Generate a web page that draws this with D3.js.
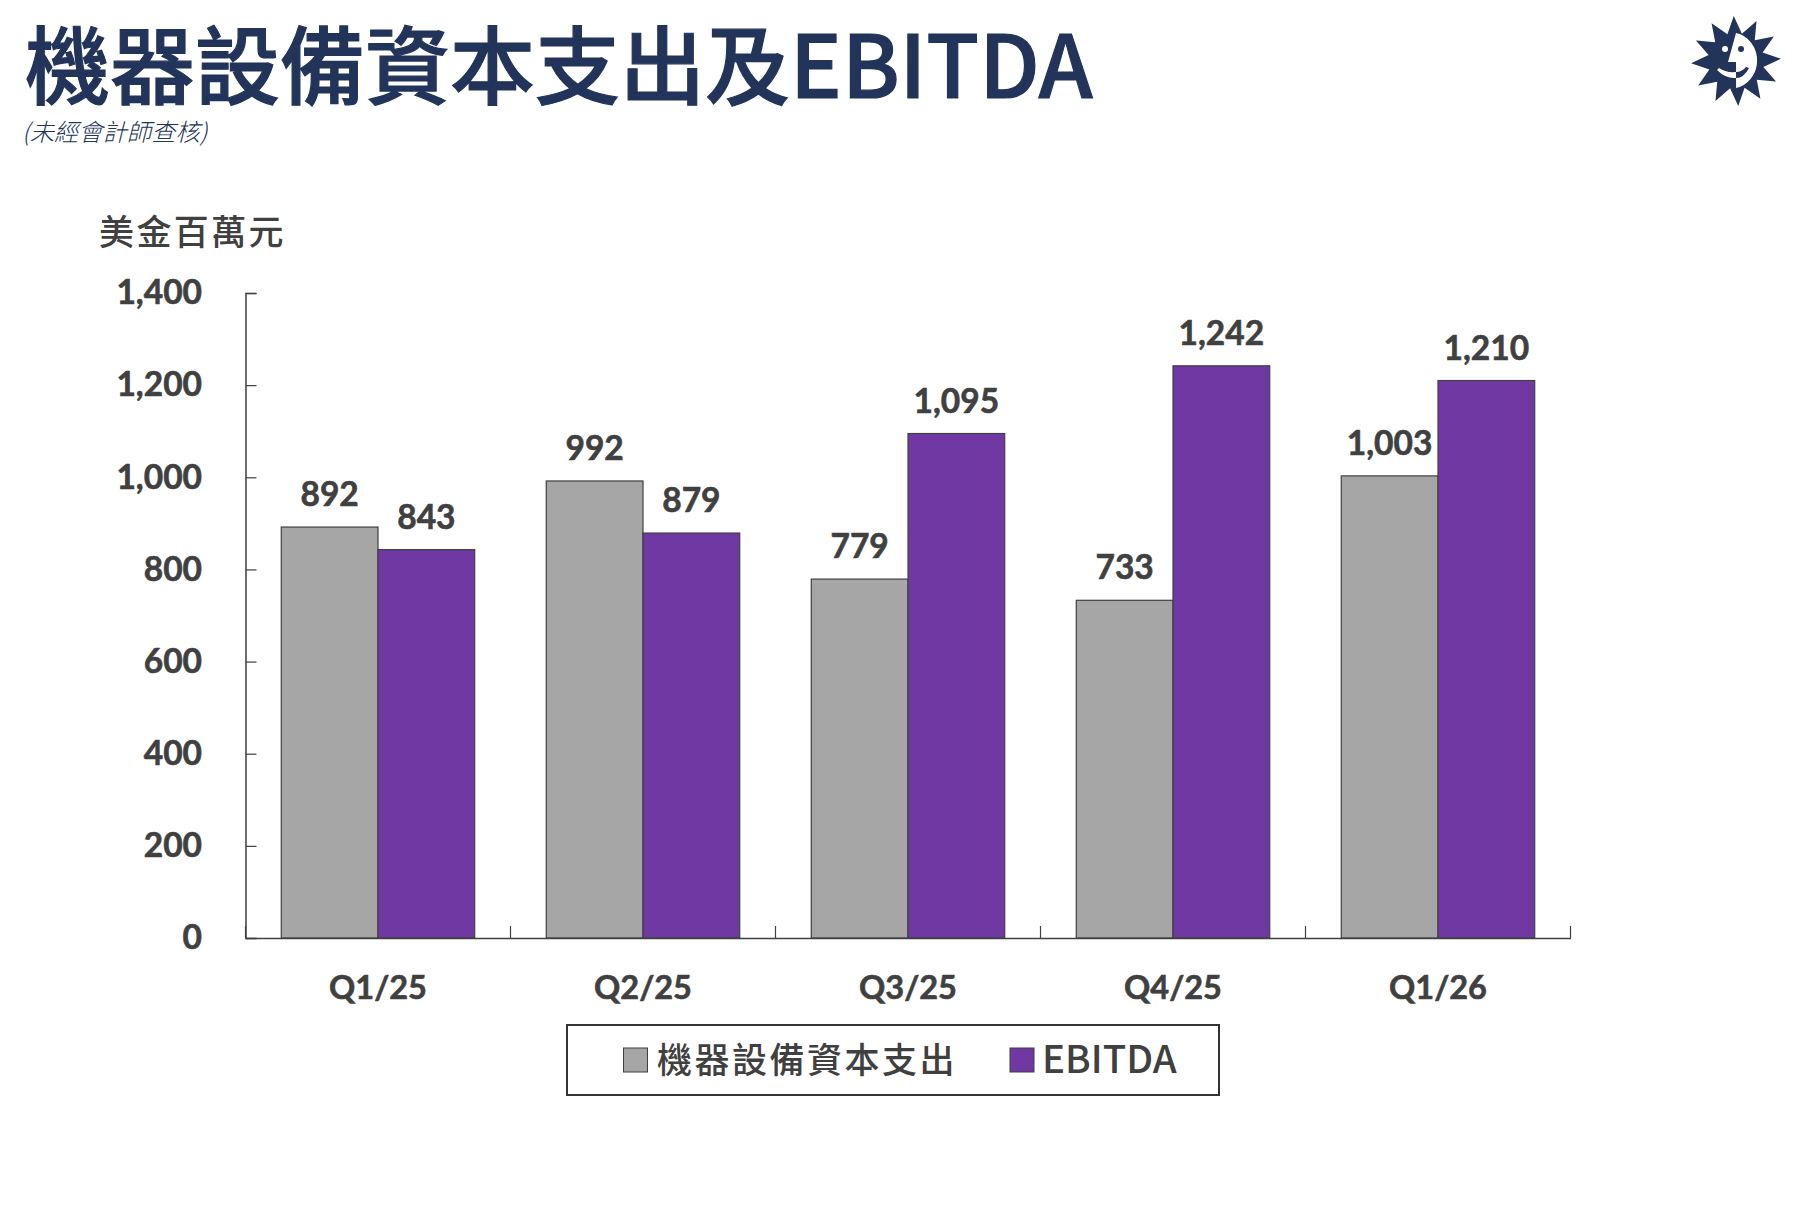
<!DOCTYPE html>
<html>
<head>
<meta charset="utf-8">
<script src="https://cdnjs.cloudflare.com/ajax/libs/d3/7.8.5/d3.min.js"></script>
<style>
	html, body { margin: 0; padding: 0; background: #fff; }
	text { font-family: Lato, "Noto Sans CJK TC", sans-serif; }
	.cjk { font-family: "Noto Sans CJK TC", sans-serif; }
</style>
</head>
<body>
<svg id="chart" width="1804" height="1210"></svg>
<script>
var quarters = [ 'Q1/25', 'Q2/25', 'Q3/25', 'Q4/25', 'Q1/26' ],
	seriesNames = [ '機器設備資本支出', 'EBITDA' ],
	seriesColors = [ '#a6a6a6', '#7038a2' ],
	capex = [ 892, 992, 779, 733, 1003 ],
	ebitda = [ 843, 879, 1095, 1242, 1210 ],
	yTicks = [ 0, 200, 400, 600, 800, 1000, 1200, 1400 ],
	textColor = '#404040',
	navy = '#22345a';

var svg = d3.select( '#chart' ),
	fmt = d3.format( ',' );

var x = d3.scaleBand().domain( quarters ).range( [ 245.5, 1570.5 ] ).paddingInner( 0.27 ).paddingOuter( 0.135 ),
	x1 = d3.scaleBand().domain( [ 0, 1 ] ).range( [ 0, x.bandwidth() ] ),
	y = d3.scaleLinear().domain( [ 0, 1400 ] ).range( [ 938, 293 ] );

// title block
var title = svg.append( 'text' ).attr( 'class', 'cjk' )
	.attr( 'x', 25 ).attr( 'y', 98 )
	.attr( 'fill', navy ).attr( 'stroke', navy ).attr( 'stroke-width', 1.2 )
	.attr( 'font-size', 85 ).attr( 'font-weight', 500 );

title.append( 'tspan' ).text( '機器設備資本支出及' );
title.append( 'tspan' ).attr( 'font-size', 86.5 ).text( 'EBITDA' );

svg.append( 'text' ).attr( 'class', 'cjk' )
	.attr( 'x', 22 ).attr( 'y', 141 )
	.attr( 'fill', navy ).attr( 'font-size', 24.3 ).attr( 'font-style', 'italic' ).attr( 'font-weight', 300 )
	.text( '(未經會計師查核)' );

svg.append( 'text' ).attr( 'class', 'cjk' )
	.attr( 'x', 99 ).attr( 'y', 245 )
	.attr( 'fill', textColor ).attr( 'font-size', 35 ).attr( 'font-weight', 500 ).attr( 'letter-spacing', 2.4 )
	.text( '美金百萬元' );

// bars
var groups = svg.selectAll( 'g.quarter' )
	.data( quarters )
	.enter().append( 'g' )
	.attr( 'class', 'quarter' )
	.attr( 'transform', function( d ) { return 'translate(' + x( d ) + ',0)'; } );

[ capex, ebitda ].forEach( function( values, s ) {
	groups.append( 'rect' )
		.attr( 'x', x1( s ) )
		.attr( 'y', function( d, i ) { return y( values[ i ] ); } )
		.attr( 'width', x1.bandwidth() )
		.attr( 'height', function( d, i ) { return y( 0 ) - y( values[ i ] ); } )
		.attr( 'fill', seriesColors[ s ] )
		.attr( 'stroke', '#404040' )
		.attr( 'stroke-width', 1.2 );

	groups.append( 'text' )
		.attr( 'x', x1( s ) + x1.bandwidth() / 2 )
		.attr( 'y', function( d, i ) { return y( values[ i ] ) - 21; } )
		.attr( 'text-anchor', 'middle' )
		.attr( 'fill', textColor ).attr( 'font-size', 33.5 ).attr( 'font-weight', 700 )
		.attr( 'stroke', textColor ).attr( 'stroke-width', 0.6 )
		.text( function( d, i ) { return fmt( values[ i ] ); } );
} );

// y axis
var yAxis = svg.append( 'g' )
	.attr( 'transform', 'translate(245.5,0)' )
	.call( d3.axisLeft( y ).tickValues( yTicks ).tickSize( -11 ).tickPadding( 43.5 ).tickFormat( fmt ) );

// x axis, separators sit on the band edges
var xAxis = svg.append( 'g' )
	.attr( 'transform', 'translate(0,' + y( 0 ) + ')' )
	.call( d3.axisBottom( x ).tickSize( 0 ).tickPadding( 37.5 ) );

xAxis.selectAll( '.sep' )
	.data( d3.range( quarters.length + 1 ) )
	.enter().append( 'line' )
	.attr( 'class', 'sep' )
	.attr( 'x1', function( d ) { return x.range()[ 0 ] + d * x.step(); } )
	.attr( 'x2', function( d ) { return x.range()[ 0 ] + d * x.step(); } )
	.attr( 'y1', 0 ).attr( 'y2', -12 )
	.attr( 'stroke', textColor ).attr( 'stroke-width', 1.2 );

[ yAxis, xAxis ].forEach( function( a ) {
	a.selectAll( '.domain' ).attr( 'stroke', textColor ).attr( 'stroke-width', 1.5 );
	a.selectAll( '.tick line' ).attr( 'stroke', textColor ).attr( 'stroke-width', 1.2 );
	a.selectAll( 'text' )
		.attr( 'fill', textColor ).attr( 'font-weight', 700 )
		.attr( 'stroke', textColor ).attr( 'stroke-width', 0.6 )
		.style( 'font-family', 'Lato, sans-serif' );
} );

yAxis.selectAll( 'text' ).attr( 'font-size', 33.5 );
xAxis.selectAll( 'text' ).attr( 'font-size', 32.5 );

// legend
var legend = svg.append( 'g' );

legend.append( 'rect' )
	.attr( 'x', 567 ).attr( 'y', 1025 ).attr( 'width', 652 ).attr( 'height', 70 )
	.attr( 'fill', '#fff' ).attr( 'stroke', '#333' ).attr( 'stroke-width', 2 );

var legendX = [ 623.5, 1010 ],
	legendTextX = [ 657, 1042 ],
	legendSize = [ 35, 38.5 ];

seriesNames.forEach( function( name, s ) {
	legend.append( 'rect' )
		.attr( 'x', legendX[ s ] ).attr( 'y', 1048 ).attr( 'width', 24 ).attr( 'height', 24 )
		.attr( 'fill', seriesColors[ s ] ).attr( 'stroke', '#404040' ).attr( 'stroke-width', 1 );
	legend.append( 'text' ).attr( 'class', 'cjk' )
		.attr( 'x', legendTextX[ s ] ).attr( 'y', 1072.5 )
		.attr( 'fill', textColor ).attr( 'font-size', legendSize[ s ] ).attr( 'font-weight', 500 )
		.attr( 'letter-spacing', s === 0 ? 2.5 : 0 )
		.text( name );
} );

// logo: sun with a half face
var sun = svg.append( 'g' ).attr( 'transform', 'translate(1736,61)' ),
	spikes = d3.range( 24 ).map( function( i ) {
		return [ i * Math.PI / 12 - 0.05, i % 2 ? 28 : 45 ];
	} );

sun.append( 'path' )
	.attr( 'd', d3.lineRadial().curve( d3.curveLinearClosed )( spikes ) )
	.attr( 'fill', navy );

sun.append( 'path' )
	.attr( 'd', 'M0,-28 A26,28 0 0 1 0,27 L0,1 L-8,1 Z' )
	.attr( 'fill', '#fff' );

sun.append( 'path' )
	.attr( 'd', 'M-19,9 Q-10,18 0,17 L0,11 Q-10,12 -17,7 Z' )
	.attr( 'fill', '#fff' );

sun.append( 'path' )
	.attr( 'd', 'M0,17 Q8,17 13,7 L10,6 Q6,11 0,11 Z' )
	.attr( 'fill', navy );

sun.append( 'circle' ).attr( 'cx', -11 ).attr( 'cy', -12 ).attr( 'r', 3 ).attr( 'fill', '#fff' );
sun.append( 'circle' ).attr( 'cx', 5 ).attr( 'cy', -12 ).attr( 'r', 3 ).attr( 'fill', navy );
</script>
</body>
</html>
